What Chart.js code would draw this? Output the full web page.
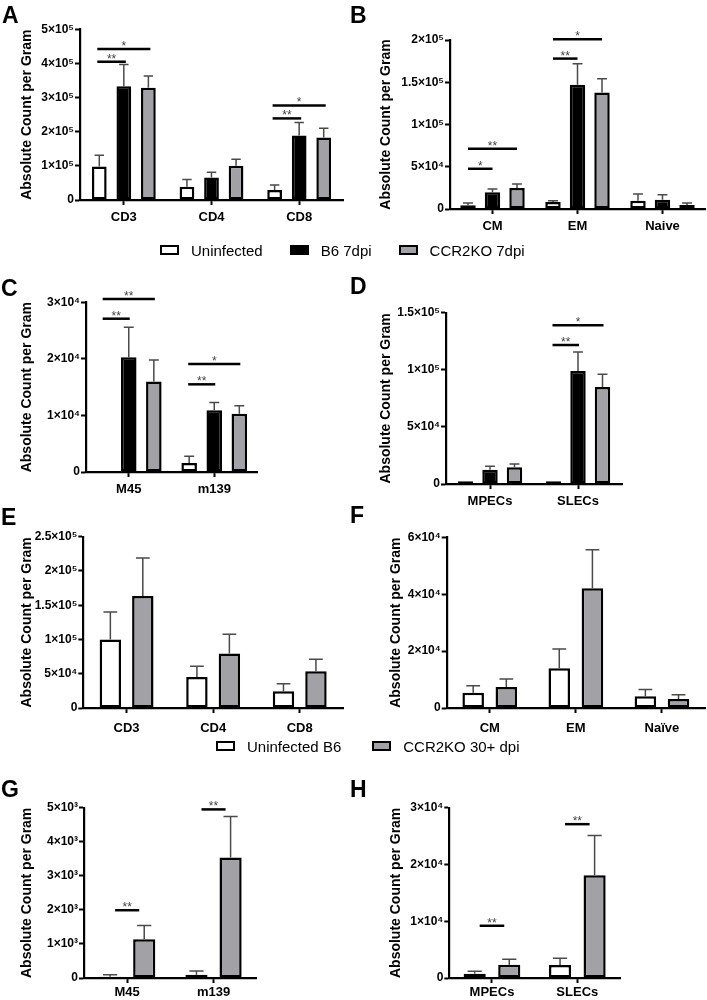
<!DOCTYPE html>
<html><head><meta charset="utf-8">
<script src="https://cdn.jsdelivr.net/npm/chart.js@4.4.1/dist/chart.umd.min.js"></script>
<style>
html,body{margin:0;padding:0;background:#fff;width:707px;height:1000px;overflow:hidden;font-family:"Liberation Sans",Arial,sans-serif;}
canvas{position:absolute;}
.letter{position:absolute;font-weight:bold;font-size:23px;line-height:23px;color:#000;}
.legend{position:absolute;display:flex;align-items:center;height:20px;font-size:15px;color:#000;white-space:nowrap;}
.legend .item{display:flex;align-items:center;}
.legend .sw{width:19px;height:10px;box-sizing:border-box;border:2px solid #000;margin-right:12px;}
</style></head><body>
<script>
// ---------- DATA ----------
const series7dpi = ['Uninfected', 'B6 7dpi', 'CCR2KO 7dpi'];
const series30dpi = ['Uninfected B6', 'CCR2KO 30+ dpi'];
const yTitle = 'Absolute Count per Gram';

// A
const catsA = ['CD3', 'CD4', 'CD8'];
const A_uninf = [98000, 39000, 29000];   const A_uninf_sem = [33000, 21000, 15000];
const A_b6    = [333000, 66000, 189000]; const A_b6_sem    = [64000, 15000, 38000];
const A_ko    = [329000, 100000, 183000];const A_ko_sem    = [34000, 19000, 27000];
const ticksA = ['0', '1×10⁵', '2×10⁵', '3×10⁵', '4×10⁵', '5×10⁵'];
const sigA = [[0, 0, 2, 442000, '*'], [0, 0, 1, 405000, '**'], [2, 0, 2, 277000, '*'], [2, 0, 1, 239000, '**']];

// B
const catsB = ['CM', 'EM', 'Naive'];
const B_uninf = [4300, 8300, 9800];     const B_uninf_sem = [2700, 1500, 7900];
const B_b6    = [19700, 146900, 11000]; const B_b6_sem    = [3900, 25100, 6000];
const B_ko    = [24800, 137800, 4700];  const B_ko_sem    = [4700, 16200, 2300];
const ticksB = ['0', '5×10⁴', '1×10⁵', '1.5×10⁵', '2×10⁵'];
const sigB = [[0, 0, 2, 71300, '**'], [0, 0, 1, 47600, '*'], [1, 0, 2, 201000, '*'], [1, 0, 1, 178000, '**']];

// C
const catsC = ['M45', 'm139'];
const C_uninf = [0, 1600];      const C_uninf_sem = [0, 1200];
const C_b6    = [20300, 10900]; const C_b6_sem    = [5300, 1400];
const C_ko    = [16000, 10300]; const C_ko_sem    = [3800, 1400];
const ticksC = ['0', '1×10⁴', '2×10⁴', '3×10⁴'];
const sigC = [[0, 0, 2, 30600, '**'], [0, 0, 1, 27100, '**'], [1, 0, 2, 19100, '*'], [1, 0, 1, 15500, '**']];

// D
const catsD = ['MPECs', 'SLECs'];
const D_uninf = [2500, 2500];    const D_uninf_sem = [0, 0];
const D_b6    = [12400, 99000];  const D_b6_sem    = [3100, 16600];
const D_ko    = [14700, 85000];  const D_ko_sem    = [2900, 11200];
const ticksD = ['0', '5×10⁴', '1×10⁵', '1.5×10⁵'];
const sigD = [[1, 0, 2, 139000, '*'], [1, 0, 1, 121700, '**']];

// E
const catsE = ['CD3', 'CD4', 'CD8'];
const E_uninf = [100000, 45300, 24300]; const E_uninf_sem = [40000, 15600, 11200];
const E_ko    = [163600, 79400, 53600]; const E_ko_sem    = [55400, 28200, 17400];
const ticksE = ['0', '5×10⁴', '1×10⁵', '1.5×10⁵', '2×10⁵', '2.5×10⁵'];

// F
const catsF = ['CM', 'EM', 'Naïve'];
const F_uninf = [5400, 14000, 4100]; const F_uninf_sem = [2400, 6700, 2400];
const F_ko    = [7400, 42100, 3200]; const F_ko_sem    = [2800, 13500, 1500];
const ticksF = ['0', '2×10⁴', '4×10⁴', '6×10⁴'];

// G
const catsG = ['M45', 'm139'];
const G_uninf = [40, 98];     const G_uninf_sem = [58, 108];
const G_ko    = [1140, 3540]; const G_ko_sem    = [400, 1200];
const ticksG = ['0', '1×10³', '2×10³', '3×10³', '4×10³', '5×10³'];
const sigG = [[0, 0, 1, 1990, '**'], [1, 0, 1, 4950, '**']];

// H
const catsH = ['MPECs', 'SLECs'];
const H_uninf = [760, 2300];   const H_uninf_sem = [420, 1200];
const H_ko    = [2350, 18100]; const H_ko_sem    = [950, 7000];
const ticksH = ['0', '1×10⁴', '2×10⁴', '3×10⁴'];
const sigH = [[0, 0, 1, 9200, '**'], [1, 0, 1, 27100, '**']];

// ---------- STYLE ----------
const colors7 = ['#ffffff', '#000000', '#a2a2a6'];
const colors30 = ['#ffffff', '#a2a2a6'];
const FONT = '"Liberation Sans", Arial, sans-serif';
Chart.defaults.font.family = FONT;

const overlayPlugin = {
  id: 'overlay',
  afterDatasetsDraw(chart, args, opts) {
    const ctx = chart.ctx;
    const ys = chart.scales.y;
    ctx.save();
    chart.data.datasets.forEach((ds, di) => {
      const meta = chart.getDatasetMeta(di);
      meta.data.forEach((bar, i) => {
        const v = ds.data[i], e = ds.sem ? ds.sem[i] : 0;
        if (!e) return;
        const yTop = ys.getPixelForValue(v + e);
        const cap = bar.width * 0.32;
        ctx.strokeStyle = '#4a4a4a';
        ctx.lineWidth = 1.5;
        ctx.beginPath();
        ctx.moveTo(bar.x, bar.y);
        ctx.lineTo(bar.x, yTop);
        ctx.moveTo(bar.x - cap, yTop);
        ctx.lineTo(bar.x + cap, yTop);
        ctx.stroke();
      });
    });
    (opts.sig || []).forEach(([cat, a, b, val, label]) => {
      const xa = chart.getDatasetMeta(a).data[cat].x - opts.ext;
      const xb = chart.getDatasetMeta(b).data[cat].x + opts.ext;
      const yy = ys.getPixelForValue(val);
      ctx.strokeStyle = '#000';
      ctx.lineWidth = 2.5;
      ctx.beginPath();
      ctx.moveTo(xa, yy);
      ctx.lineTo(xb, yy);
      ctx.stroke();
      ctx.fillStyle = '#444';
      ctx.font = '12px ' + FONT;
      ctx.textAlign = 'center';
      ctx.textBaseline = 'alphabetic';
      ctx.fillText(label, (xa + xb) / 2, yy + 1);
    });
    ctx.restore();
  }
};

function makeChart(p) {
  const cv = document.createElement('canvas');
  const W = p.width;
  const H = Math.round(p.Z + p.xh - p.top);
  cv.width = W; cv.height = H;
  cv.style.left = p.left + 'px'; cv.style.top = p.top + 'px';
  cv.style.width = W + 'px'; cv.style.height = H + 'px';
  document.body.appendChild(cv);
  const lh = 14 * 1.2;
  const padLeft = p.titleX - p.left - lh / 2;
  const yW = p.L - p.left - padLeft;
  const padTop = p.T - p.top;
  const padRight = p.left + W - p.R;
  const axisGrid = {display: true, drawOnChartArea: false, drawTicks: true, tickLength: 5, tickColor: '#000', tickWidth: 2, offset: false};
  const axisBorder = {display: true, color: '#000', width: 2.2};
  new Chart(cv, {
    type: 'bar',
    data: {
      labels: p.cats,
      datasets: p.series.map((s, i) => ({
        label: s, data: p.values[i], sem: p.sems[i],
        backgroundColor: p.colors[i], borderColor: '#000', borderWidth: 2.5, borderSkipped: false,
        categoryPercentage: p.catPct, barPercentage: p.barPct
      }))
    },
    options: {
      responsive: false, animation: false, devicePixelRatio: 1,
      layout: {padding: {left: padLeft, top: padTop, right: padRight, bottom: 0}},
      plugins: {legend: {display: false}, tooltip: {enabled: false}, overlay: {sig: p.sig || [], ext: p.ext}},
      scales: {
        x: {
          grid: axisGrid, border: axisBorder,
          ticks: {color: '#000', font: {size: 13, weight: 'bold'}, padding: p.xpad, maxRotation: 0, autoSkip: false},
          afterFit: s => { s.height = p.xh; }
        },
        y: {
          min: 0, max: p.ymax,
          grid: axisGrid, border: axisBorder,
          ticks: {stepSize: p.step, color: '#000', font: {size: 12, weight: 'bold'}, padding: 1, callback: (v, i) => p.tickLabels[i]},
          title: {display: true, text: yTitle, color: '#000', font: {size: 14, weight: 'bold'}, padding: 0},
          afterFit: s => { s.width = yW; }
        }
      }
    },
    plugins: [overlayPlugin]
  });
}

function letter(txt, x, baseline) {
  const d = document.createElement('div');
  d.className = 'letter'; d.textContent = txt;
  d.style.left = x + 'px'; d.style.top = (baseline - 19.5) + 'px';
  document.body.appendChild(d);
}
function legend(names, colors, x, cy, gap) {
  const d = document.createElement('div');
  d.className = 'legend';
  d.style.left = x + 'px'; d.style.top = (cy - 10) + 'px';
  d.style.gap = gap + 'px';
  names.forEach((n, i) => {
    const it = document.createElement('div'); it.className = 'item';
    const sw = document.createElement('div'); sw.className = 'sw'; sw.style.background = colors[i];
    const t = document.createElement('span'); t.textContent = n;
    it.appendChild(sw); it.appendChild(t); d.appendChild(it);
  });
  document.body.appendChild(d);
}

// Panels
makeChart({left: 0, top: 0, width: 353, L: 80, R: 343, T: 29.3, Z: 200, titleX: 27.5, xh: 30, xpad: 5,
  cats: catsA, series: series7dpi, colors: colors7, values: [A_uninf, A_b6, A_ko], sems: [A_uninf_sem, A_b6_sem, A_ko_sem],
  ymax: 500000, step: 100000, tickLabels: ticksA, sig: sigA, ext: 2, catPct: 0.84, barPct: 0.6});
makeChart({left: 353, top: 0, width: 354, L: 450, R: 705, T: 40, Z: 209.3, titleX: 386, xh: 30, xpad: 5,
  cats: catsB, series: series7dpi, colors: colors7, values: [B_uninf, B_b6, B_ko], sems: [B_uninf_sem, B_b6_sem, B_ko_sem],
  ymax: 200000, step: 50000, tickLabels: ticksB, sig: sigB, ext: 0, catPct: 0.865, barPct: 0.63});
makeChart({left: 0, top: 258, width: 353, L: 86, R: 257, T: 302.3, Z: 472.3, titleX: 27.5, xh: 30, xpad: 5,
  cats: catsC, series: series7dpi, colors: colors7, values: [C_uninf, C_b6, C_ko], sems: [C_uninf_sem, C_b6_sem, C_ko_sem],
  ymax: 30000, step: 10000, tickLabels: ticksC, sig: sigC, ext: 1, catPct: 0.88, barPct: 0.62});
makeChart({left: 353, top: 258, width: 354, L: 446, R: 622, T: 312.7, Z: 483.5, titleX: 386, xh: 30, xpad: 5,
  cats: catsD, series: series7dpi, colors: colors7, values: [D_uninf, D_b6, D_ko], sems: [D_uninf_sem, D_b6_sem, D_ko_sem],
  ymax: 150000, step: 50000, tickLabels: ticksD, sig: sigD, ext: 1, catPct: 0.835, barPct: 0.63});
makeChart({left: 0, top: 500, width: 353, L: 83.3, R: 343, T: 536.7, Z: 707.7, titleX: 27.5, xh: 30, xpad: 8,
  cats: catsE, series: series30dpi, colors: colors30, values: [E_uninf, E_ko], sems: [E_uninf_sem, E_ko_sem],
  ymax: 250000, step: 50000, tickLabels: ticksE, sig: [], ext: 0, catPct: 0.75, barPct: 0.66});
makeChart({left: 353, top: 500, width: 354, L: 446.7, R: 705, T: 537.3, Z: 707.7, titleX: 396, xh: 30, xpad: 8,
  cats: catsF, series: series30dpi, colors: colors30, values: [F_uninf, F_ko], sems: [F_uninf_sem, F_ko_sem],
  ymax: 60000, step: 20000, tickLabels: ticksF, sig: [], ext: 0, catPct: 0.77, barPct: 0.65});
makeChart({left: 0, top: 770, width: 353, L: 84, R: 256.7, T: 807.7, Z: 977.7, titleX: 27.5, xh: 22, xpad: 2,
  cats: catsG, series: series30dpi, colors: colors30, values: [G_uninf, G_ko], sems: [G_uninf_sem, G_ko_sem],
  ymax: 5000, step: 1000, tickLabels: ticksG, sig: sigG, ext: -5, catPct: 0.79, barPct: 0.65});
makeChart({left: 353, top: 770, width: 354, L: 449.3, R: 620, T: 807.7, Z: 977.7, titleX: 396, xh: 22, xpad: 2,
  cats: catsH, series: series30dpi, colors: colors30, values: [H_uninf, H_ko], sems: [H_uninf_sem, H_ko_sem],
  ymax: 30000, step: 10000, tickLabels: ticksH, sig: sigH, ext: -5, catPct: 0.81, barPct: 0.64});

letter('A', 2, 23.3); letter('B', 350, 23);
letter('C', 1, 296); letter('D', 350, 294);
letter('E', 1, 525); letter('F', 350, 523);
letter('G', 1, 797); letter('H', 350, 797);

legend(series7dpi, colors7, 160, 250, 27);
legend(series30dpi, colors30, 216, 746, 31);
</script>
</body></html>
